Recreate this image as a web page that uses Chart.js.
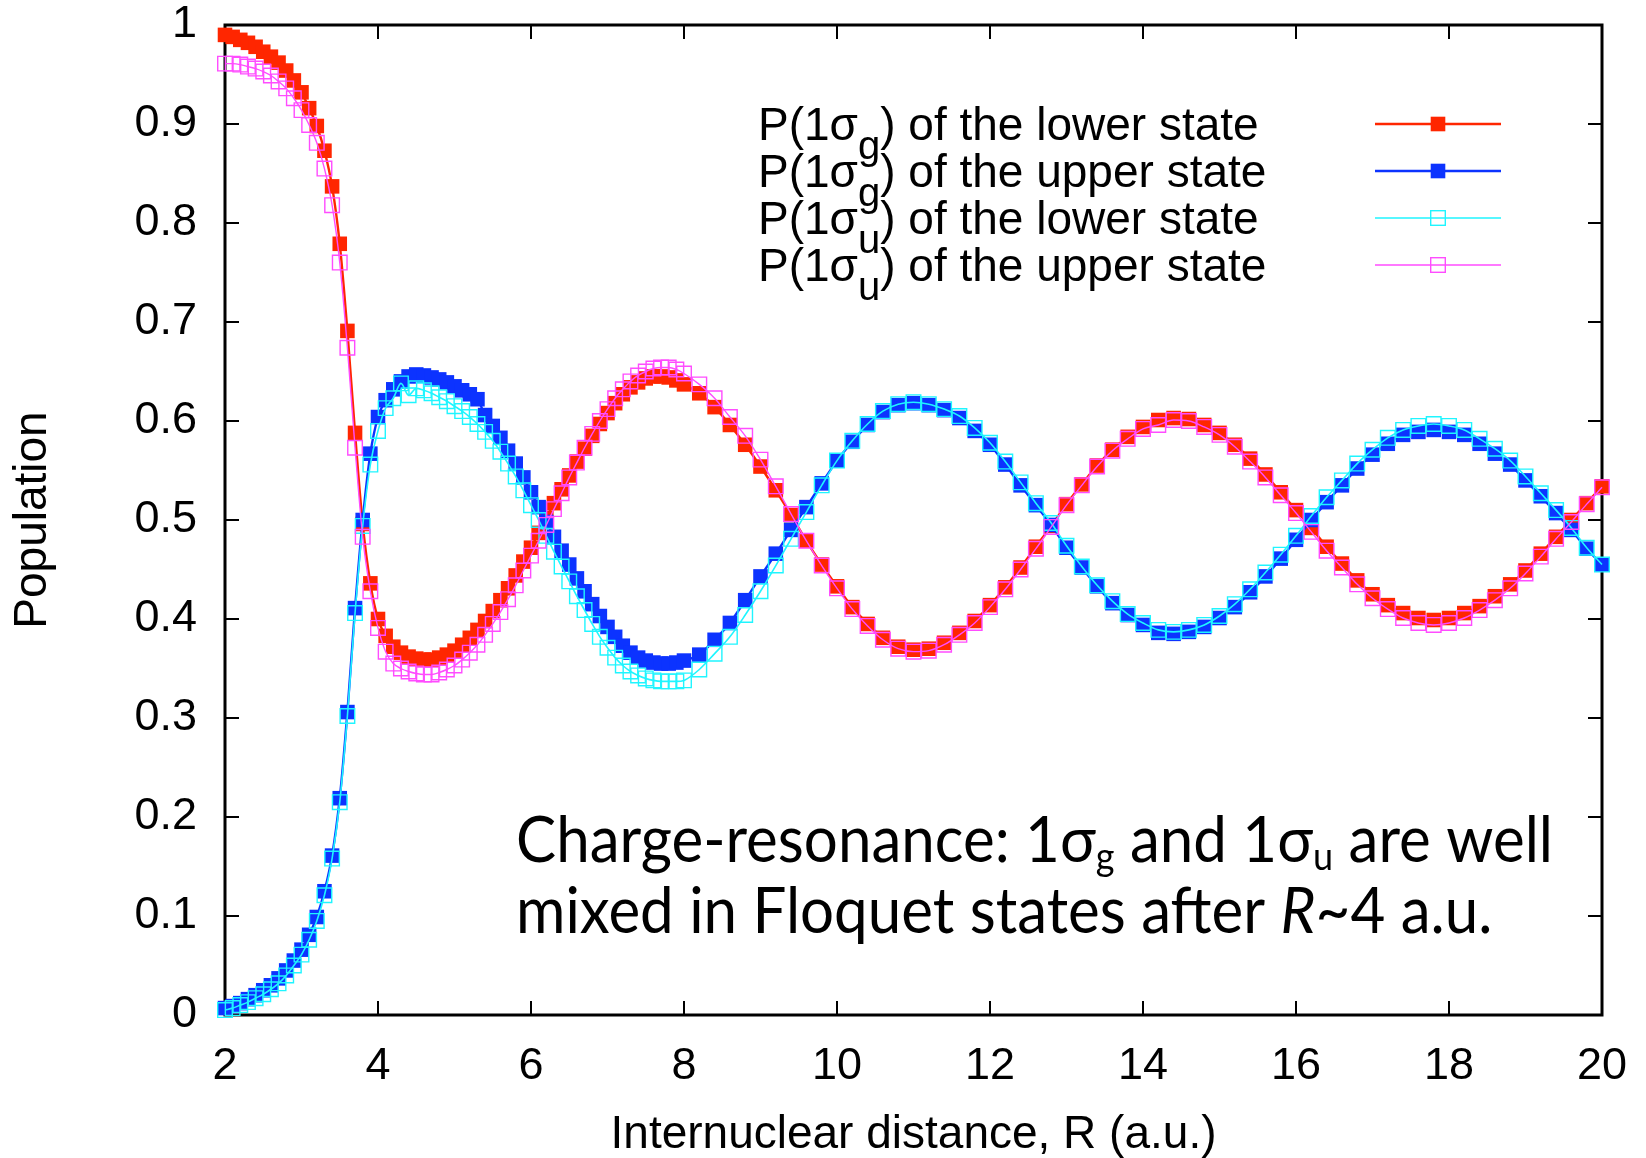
<!DOCTYPE html>
<html lang="en">
<head>
<meta charset="utf-8" />
<title>Floquet state populations</title>
<script src="https://cdn.jsdelivr.net/npm/chart.js"></script>
<style>
  html, body { margin: 0; padding: 0; background: #fff; }
  #wrap { width: 1646px; height: 1158px; }
</style>
</head>
<body>
<div id="wrap"><canvas id="popChart" width="1646" height="1158"></canvas></div>
<script>
// internuclear distance R (a.u.): 0.1 steps up to 8, then 0.2 steps
const R = [
  2.0, 2.1, 2.2, 2.3, 2.4, 2.5, 2.6, 2.7, 2.8, 2.9,
  3.0, 3.1, 3.2, 3.3, 3.4, 3.5, 3.6, 3.7, 3.8, 3.9,
  4.0, 4.1, 4.2, 4.3, 4.4, 4.5, 4.6, 4.7, 4.8, 4.9,
  5.0, 5.1, 5.2, 5.3, 5.4, 5.5, 5.6, 5.7, 5.8, 5.9,
  6.0, 6.1, 6.2, 6.3, 6.4, 6.5, 6.6, 6.7, 6.8, 6.9,
  7.0, 7.1, 7.2, 7.3, 7.4, 7.5, 7.6, 7.7, 7.8, 7.9,
  8.0, 8.2, 8.4, 8.6, 8.8, 9.0, 9.2, 9.4, 9.6, 9.8,
  10.0, 10.2, 10.4, 10.6, 10.8, 11.0, 11.2, 11.4, 11.6, 11.8,
  12.0, 12.2, 12.4, 12.6, 12.8, 13.0, 13.2, 13.4, 13.6, 13.8,
  14.0, 14.2, 14.4, 14.6, 14.8, 15.0, 15.2, 15.4, 15.6, 15.8,
  16.0, 16.2, 16.4, 16.6, 16.8, 17.0, 17.2, 17.4, 17.6, 17.8,
  18.0, 18.2, 18.4, 18.6, 18.8, 19.0, 19.2, 19.4, 19.6, 19.8,
  20.0
];

// P(1sigma_g) of the lower state
const sgLower = [
  0.990, 0.988, 0.985, 0.982, 0.978, 0.973, 0.968, 0.962, 0.954, 0.944,
  0.932, 0.916, 0.898, 0.873, 0.837, 0.779, 0.691, 0.588, 0.496, 0.436,
  0.400, 0.383, 0.372, 0.366, 0.362, 0.360, 0.359, 0.359, 0.361, 0.364,
  0.368, 0.374, 0.381, 0.389, 0.398, 0.408, 0.419, 0.431, 0.444, 0.458,
  0.472, 0.487, 0.502, 0.517, 0.531, 0.545, 0.559, 0.572, 0.585, 0.597,
  0.608, 0.618, 0.627, 0.634, 0.639, 0.643, 0.645, 0.645, 0.644, 0.641,
  0.637, 0.628, 0.614, 0.596, 0.576, 0.554, 0.530, 0.505, 0.479, 0.455,
  0.433, 0.412, 0.395, 0.381, 0.372, 0.369, 0.370, 0.376, 0.386, 0.398,
  0.414, 0.432, 0.452, 0.473, 0.494, 0.516, 0.536, 0.555, 0.571, 0.584,
  0.594, 0.601, 0.603, 0.602, 0.596, 0.588, 0.576, 0.562, 0.546, 0.528,
  0.510, 0.492, 0.473, 0.456, 0.439, 0.425, 0.414, 0.406, 0.401, 0.399,
  0.401, 0.406, 0.413, 0.423, 0.435, 0.449, 0.466, 0.483, 0.500, 0.517,
  0.534
];

// P(1sigma_g) of the upper state
const sgUpper = [
  0.007, 0.009, 0.012, 0.016, 0.020, 0.025, 0.030, 0.037, 0.045, 0.055,
  0.066, 0.081, 0.099, 0.125, 0.161, 0.219, 0.306, 0.411, 0.500, 0.567,
  0.604, 0.621, 0.632, 0.640, 0.645, 0.647, 0.646, 0.644, 0.642, 0.639,
  0.635, 0.631, 0.627, 0.622, 0.606, 0.595, 0.583, 0.570, 0.557, 0.543,
  0.528, 0.513, 0.498, 0.483, 0.469, 0.455, 0.441, 0.428, 0.415, 0.403,
  0.392, 0.382, 0.373, 0.366, 0.361, 0.358, 0.356, 0.355, 0.355, 0.356,
  0.358, 0.364, 0.379, 0.396, 0.419, 0.443, 0.466, 0.490, 0.513, 0.537,
  0.560, 0.579, 0.596, 0.609, 0.616, 0.618, 0.616, 0.611, 0.603, 0.590,
  0.576, 0.556, 0.535, 0.515, 0.495, 0.472, 0.452, 0.433, 0.416, 0.404,
  0.394, 0.386, 0.385, 0.387, 0.392, 0.401, 0.412, 0.427, 0.443, 0.461,
  0.480, 0.500, 0.518, 0.535, 0.552, 0.566, 0.577, 0.586, 0.589, 0.591,
  0.589, 0.586, 0.577, 0.567, 0.556, 0.540, 0.524, 0.507, 0.490, 0.471,
  0.455
];

// P(1sigma_u) of the lower state
const suLower = [
  0.005, 0.007, 0.010, 0.013, 0.017, 0.021, 0.026, 0.032, 0.040, 0.050,
  0.061, 0.076, 0.095, 0.121, 0.158, 0.215, 0.302, 0.406, 0.494, 0.556,
  0.590, 0.613, 0.623, 0.638, 0.626, 0.633, 0.631, 0.628, 0.624, 0.620,
  0.615, 0.610, 0.604, 0.597, 0.589, 0.580, 0.569, 0.557, 0.544, 0.530,
  0.515, 0.500, 0.484, 0.468, 0.453, 0.438, 0.423, 0.409, 0.395, 0.382,
  0.371, 0.361, 0.353, 0.347, 0.343, 0.340, 0.338, 0.337, 0.337, 0.337,
  0.338, 0.349, 0.365, 0.382, 0.404, 0.428, 0.454, 0.481, 0.508, 0.535,
  0.560, 0.580, 0.597, 0.610, 0.617, 0.619, 0.617, 0.612, 0.605, 0.593,
  0.578, 0.559, 0.538, 0.517, 0.497, 0.474, 0.453, 0.434, 0.418, 0.405,
  0.396, 0.389, 0.387, 0.389, 0.394, 0.403, 0.415, 0.430, 0.447, 0.465,
  0.484, 0.504, 0.523, 0.540, 0.557, 0.571, 0.583, 0.591, 0.595, 0.597,
  0.595, 0.591, 0.582, 0.572, 0.560, 0.544, 0.527, 0.510, 0.492, 0.472,
  0.455
];

// P(1sigma_u) of the upper state
const suUpper = [
  0.961, 0.961, 0.960, 0.958, 0.956, 0.953, 0.949, 0.943, 0.936, 0.926,
  0.914, 0.899, 0.881, 0.855, 0.818, 0.760, 0.674, 0.573, 0.483, 0.428,
  0.391, 0.367, 0.355, 0.350, 0.347, 0.345, 0.344, 0.344, 0.346, 0.349,
  0.353, 0.359, 0.366, 0.374, 0.384, 0.395, 0.407, 0.420, 0.434, 0.449,
  0.464, 0.479, 0.495, 0.511, 0.527, 0.543, 0.558, 0.573, 0.587, 0.600,
  0.612, 0.623, 0.632, 0.640, 0.646, 0.650, 0.653, 0.654, 0.654, 0.652,
  0.648, 0.637, 0.623, 0.604, 0.585, 0.561, 0.534, 0.506, 0.479, 0.454,
  0.431, 0.410, 0.393, 0.379, 0.370, 0.367, 0.368, 0.374, 0.384, 0.396,
  0.412, 0.430, 0.450, 0.471, 0.493, 0.515, 0.535, 0.554, 0.570, 0.582,
  0.592, 0.596, 0.601, 0.600, 0.594, 0.586, 0.574, 0.559, 0.543, 0.525,
  0.507, 0.488, 0.469, 0.452, 0.435, 0.421, 0.410, 0.401, 0.396, 0.394,
  0.396, 0.401, 0.409, 0.419, 0.431, 0.446, 0.463, 0.481, 0.498, 0.516,
  0.533
];

// legend labels, "_x" marks a subscript
const seriesLabels = [
  'P(1σ_g) of the lower state',
  'P(1σ_g) of the upper state',
  'P(1σ_u) of the lower state',
  'P(1σ_u) of the upper state'
];

// annotation, "*...*" marks italics
const noteLines = [
  'Charge-resonance: 1σ_g and 1σ_u are well',
  'mixed in Floquet states after *R*~4 a.u.'
];

const xTitle = 'Internuclear distance, R (a.u.)';
const yTitle = 'Population';

const RED = '#ff2600';
const BLUE = '#0c33ff';
const CYAN = '#1ff5ff';
const MAGENTA = '#ff4cff';
const FONT = "'Liberation Sans', Arial, Helvetica, sans-serif";
const NOTE_FONT = "Lato, 'Open Sans', sans-serif";

Chart.defaults.font.family = FONT;
Chart.defaults.color = '#000';

function pts(ys) {
  return R.map((r, i) => ({ x: r, y: ys[i] }));
}

const styles = [
  { color: RED, filled: true, lw: 2.4, order: 4 },
  { color: BLUE, filled: true, lw: 2.4, order: 3 },
  { color: CYAN, filled: false, lw: 1.6, order: 2 },
  { color: MAGENTA, filled: false, lw: 1.4, order: 1 }
];
const series = [sgLower, sgUpper, suLower, suUpper];

const datasets = series.map((ys, i) => {
  const s = styles[i];
  return {
    label: seriesLabels[i],
    data: pts(ys),
    order: s.order,
    borderColor: s.color,
    borderWidth: s.lw,
    cubicInterpolationMode: 'monotone',
    pointStyle: 'rect',
    pointRadius: 10.3,
    pointBackgroundColor: s.filled ? s.color : 'rgba(255,255,255,0)',
    pointBorderColor: s.color,
    pointBorderWidth: s.filled ? 0 : 1.4,
    clip: false
  };
});

// split "_x" subscripts and "*...*" italics into runs
function parseRich(str) {
  const segs = [];
  let buf = '', italic = false;
  for (let i = 0; i < str.length; i++) {
    const c = str[i];
    if (c === '_') {
      if (buf) segs.push({ t: buf, it: italic });
      buf = '';
      segs.push({ t: str[++i], sub: true, it: italic });
    } else if (c === '*') {
      if (buf) segs.push({ t: buf, it: italic });
      buf = '';
      italic = !italic;
    } else {
      buf += c;
    }
  }
  if (buf) segs.push({ t: buf, it: italic });
  return segs;
}

function richWidth(ctx, str, o) {
  let w = 0;
  parseRich(str).forEach(s => {
    const sz = s.sub ? o.size * o.subScale : o.size;
    ctx.font = (s.it ? 'italic ' : '') + sz + 'px ' + o.family;
    w += ctx.measureText(s.t).width;
  });
  return w;
}

function drawRich(ctx, str, x, y, o) {
  ctx.save();
  ctx.translate(x, y);
  ctx.scale(o.sx || 1, 1);
  ctx.textBaseline = 'alphabetic';
  ctx.textAlign = 'left';
  ctx.fillStyle = '#000';
  let cx = 0;
  parseRich(str).forEach(s => {
    const sz = s.sub ? o.size * o.subScale : o.size;
    ctx.font = (s.it ? 'italic ' : '') + sz + 'px ' + o.family;
    ctx.fillText(s.t, cx, s.sub ? o.size * o.subShift : 0);
    cx += ctx.measureText(s.t).width;
  });
  ctx.restore();
}

// border box and inward mirrored ticks, like gnuplot
const framePlugin = {
  id: 'frame',
  beforeDatasetsDraw(chart) {
    const { ctx, chartArea: a, scales: { x, y } } = chart;
    const tl = 14;
    ctx.save();
    ctx.strokeStyle = '#000';
    ctx.lineWidth = 2;
    ctx.beginPath();
    x.ticks.forEach(t => {
      const px = x.getPixelForValue(t.value);
      ctx.moveTo(px, a.bottom); ctx.lineTo(px, a.bottom - tl);
      ctx.moveTo(px, a.top); ctx.lineTo(px, a.top + tl);
    });
    y.ticks.forEach(t => {
      const py = y.getPixelForValue(t.value);
      ctx.moveTo(a.left, py); ctx.lineTo(a.left + tl, py);
      ctx.moveTo(a.right, py); ctx.lineTo(a.right - tl, py);
    });
    ctx.stroke();
    ctx.lineWidth = 3;
    ctx.strokeRect(a.left, a.top, a.right - a.left, a.bottom - a.top);
    ctx.restore();
  }
};

const legendPlugin = {
  id: 'keyBox',
  afterDraw(chart) {
    const { ctx } = chart;
    const textX = 758, lineX0 = 1375, lineX1 = 1501, rowY0 = 124, rowStep = 47;
    chart.data.datasets.forEach((ds, i) => {
      const s = styles[i];
      const yy = rowY0 + i * rowStep;
      drawRich(ctx, ds.label, textX, yy + 16, { size: 46, family: FONT, subScale: 0.87, subShift: 0.42 });
      ctx.save();
      ctx.strokeStyle = s.color;
      ctx.lineWidth = s.lw;
      ctx.beginPath();
      ctx.moveTo(lineX0, yy); ctx.lineTo(lineX1, yy);
      ctx.stroke();
      const half = 7.3, mx = (lineX0 + lineX1) / 2;
      if (s.filled) {
        ctx.fillStyle = s.color;
        ctx.fillRect(mx - half, yy - half, half * 2, half * 2);
      } else {
        ctx.lineWidth = 1.4;
        ctx.strokeRect(mx - half, yy - half, half * 2, half * 2);
      }
      ctx.restore();
    });
  }
};

const notePlugin = {
  id: 'note',
  afterDraw(chart) {
    const { ctx } = chart;
    const o = { size: 64, family: NOTE_FONT, subScale: 0.6, subShift: 0.12 };
    const w = richWidth(ctx, noteLines[0], o);
    o.sx = 1037 / w;
    drawRich(ctx, noteLines[0], 516, 862, o);
    drawRich(ctx, noteLines[1], 516, 933, o);
  }
};

new Chart(document.getElementById('popChart'), {
  type: 'line',
  data: { datasets },
  options: {
    responsive: false,
    animation: false,
    devicePixelRatio: 1,
    events: [],
    layout: { padding: { top: 25, right: 44, left: 0, bottom: 0 } },
    plugins: { legend: { display: false }, tooltip: { enabled: false } },
    scales: {
      x: {
        type: 'linear',
        min: 2,
        max: 20,
        ticks: { stepSize: 2, font: { size: 45, lineHeight: 1 }, padding: 29, color: '#000' },
        grid: { display: false, drawTicks: false },
        border: { display: false },
        title: { display: true, text: xTitle, font: { size: 46, lineHeight: 1 }, padding: { top: 0, bottom: 0 }, color: '#000' },
        afterFit(scale) {
          scale.height = 143;
          scale.paddingLeft = 0;
          scale.paddingRight = 0;
        }
      },
      y: {
        type: 'linear',
        min: 0,
        max: 1,
        ticks: {
          stepSize: 0.1,
          font: { size: 45, lineHeight: 1 },
          padding: 28,
          color: '#000',
          callback: v => String(Number(v.toFixed(1)))
        },
        grid: { display: false, drawTicks: false },
        border: { display: false },
        title: { display: true, text: yTitle, font: { size: 46 }, padding: { top: 6, bottom: 0 }, color: '#000' },
        afterFit(scale) {
          scale.width = 225;
          scale.paddingTop = 0;
          scale.paddingBottom = 0;
        }
      }
    }
  },
  plugins: [framePlugin, legendPlugin, notePlugin]
});
</script>
</body>
</html>
